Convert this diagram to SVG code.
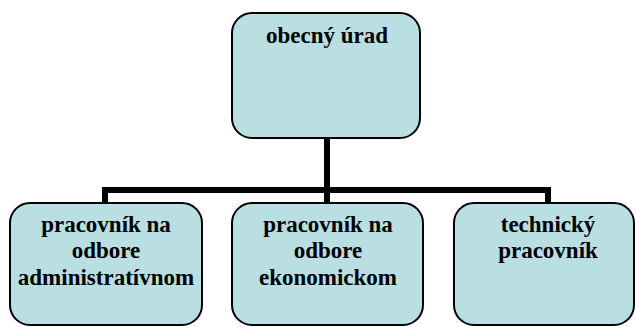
<svg xmlns="http://www.w3.org/2000/svg" width="635" height="327" viewBox="0 0 635 327">
<style>
.box{fill:#b9dfe2;stroke:#000;stroke-width:2}
.t{font-family:"Liberation Serif","Times New Roman",serif;font-weight:bold;font-size:23px;fill:#000;text-anchor:middle}
.c{fill:none;stroke:#000;stroke-width:6}
</style>
<rect width="635" height="327" fill="#fff"/>
<g id="connectors">
<path class="c" d="M327,138 V203 M105,203 V190 H548 V203"/>
</g>
<g id="n0">
<rect class="box" x="232" y="13" width="188" height="125" rx="20"/>
<text class="t" x="327" y="43">obecný úrad</text>
</g>
<g id="n1">
<rect class="box" x="10" y="203" width="192" height="122" rx="20"/>
<text class="t" x="106" y="232">pracovník na</text>
<text class="t" x="106" y="258">odbore</text>
<text class="t" x="106" y="285">administratívnom</text>
</g>
<g id="n2">
<rect class="box" x="232" y="203" width="191" height="122" rx="20"/>
<text class="t" x="328" y="232">pracovník na</text>
<text class="t" x="328" y="258">odbore</text>
<text class="t" x="328" y="285">ekonomickom</text>
</g>
<g id="n3">
<rect class="box" x="454" y="203" width="180" height="122" rx="20"/>
<text class="t" x="548" y="232">technický</text>
<text class="t" x="548" y="258">pracovník</text>
</g>
</svg>
